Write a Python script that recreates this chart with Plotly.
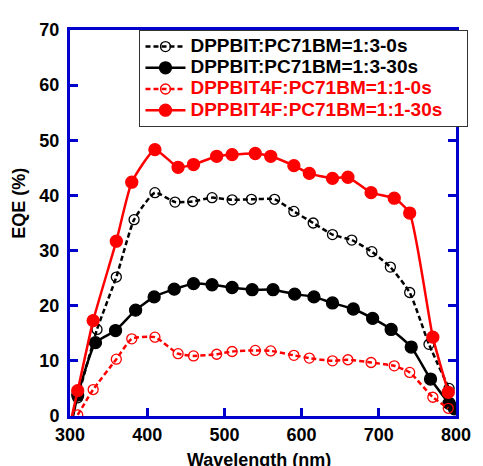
import plotly.graph_objects as go

# DPPBIT:PC71BM=1:3 (0 s and 30 s)
wl_bit_0s = [310, 335, 360, 383, 410, 436, 459, 484, 510, 535, 565, 590, 615, 640,
             665, 691, 715, 740, 765, 791]
eqe_bit_0s = [3.3, 15.7, 25.2, 35.6, 40.5, 38.8, 38.9, 39.6, 39.2, 39.3, 39.3, 37.1,
              35.0, 32.9, 31.9, 29.8, 27.0, 22.4, 13.0, 5.0]

wl_bit_30s = [300, 310, 333, 359, 385, 409, 435, 460, 484, 510, 536, 563, 591, 616,
              640, 667, 692, 716, 742, 767, 791, 798]
eqe_bit_30s = [-2.8, 3.8, 13.3, 15.5, 19.2, 21.6, 23.0, 24.0, 23.8, 23.3, 22.9, 22.9,
               22.1, 21.6, 20.5, 19.4, 17.7, 15.7, 12.5, 6.7, 2.3, 1.3]

# DPPBIT4F:PC71BM=1:1 (0 s and 30 s)
wl_4f = [310, 330, 360, 380, 410, 440, 460, 490, 510, 540, 560, 590, 610, 640,
         660, 690, 720, 740, 770, 790]
eqe_4f_0s = [0.2, 4.8, 10.3, 14.0, 14.3, 11.3, 10.9, 11.2, 11.7, 11.9, 11.8, 11.0,
             10.5, 10.0, 10.2, 9.7, 9.1, 7.9, 3.4, 1.4]

wl_4f_30s = [300] + wl_4f
eqe_4f_30s = [-1.5, 4.6, 17.3, 31.7, 42.4, 48.3, 45.1, 45.6, 47.1, 47.4, 47.6, 47.1,
              45.4, 44.0, 43.1, 43.3, 40.5, 39.5, 36.8, 14.3, 4.3]

BLUE = "#0000CC"
FONT = "Liberation Sans, Arial, sans-serif"

fig = go.Figure()

series = [
    (wl_bit_0s, eqe_bit_0s, "DPPBIT:PC71BM=1:3-0s", "black", "5px,3px", "circle-open"),
    (wl_bit_30s, eqe_bit_30s, "DPPBIT:PC71BM=1:3-30s", "black", "solid", "circle"),
    (wl_4f, eqe_4f_0s, "DPPBIT4F:PC71BM=1:1-0s", "red", "5px,3px", "circle-open"),
    (wl_4f_30s, eqe_4f_30s, "DPPBIT4F:PC71BM=1:1-30s", "red", "solid", "circle"),
]
for x, y, name, color, dash, symbol in series:
    fig.add_trace(go.Scatter(
        x=x, y=y, mode="lines+markers",
        # bigger glyphs than the legend font so the rows stay tight
        name=f"<span style='color:{color};font-size:19px'>{name}</span>",
        line=dict(color=color, width=2.5, dash=dash, shape="spline", smoothing=0.5),
        marker=dict(symbol=symbol, color=color, size=12 if symbol == "circle" else 10,
                    line=dict(color=color, width=1.3)),
    ))

axis_common = dict(
    showline=True, linecolor=BLUE, linewidth=3, mirror="ticks",
    ticks="inside", ticklen=8, tickwidth=3, tickcolor=BLUE,
    showgrid=False, zeroline=False,
    tickfont=dict(family=FONT, size=18, color="black", weight="bold"),
)

fig.update_xaxes(range=[300, 800], dtick=100, **axis_common)
fig.update_yaxes(range=[0, 70], dtick=10, ticklabelstandoff=4, **axis_common)

# page body adds 8px offset, so the figure is sized/margined to compensate
fig.update_layout(
    width=475, height=458,
    margin=dict(l=62, r=16, t=16, b=50),
    plot_bgcolor="white", paper_bgcolor="white",
    showlegend=True,
    legend=dict(
        orientation="h",
        x=0.18, y=1.0, xanchor="left", yanchor="top",
        bgcolor="white", bordercolor="#333333", borderwidth=1,
        font=dict(family=FONT, size=14, color="black", weight="bold"),
        tracegroupgap=0, itemwidth=40,
        entrywidth=272, entrywidthmode="pixels",
    ),
    annotations=[
        dict(text="<b>Wavelength (nm)</b>", xref="paper", yref="paper",
             x=0.49, y=-0.082, xanchor="center", yanchor="top", showarrow=False,
             font=dict(family=FONT, size=18, color="black")),
        dict(text="<b>EQE (%)</b>", xref="paper", yref="paper",
             x=-0.131, y=0.551, xanchor="center", yanchor="middle", showarrow=False,
             textangle=-90, font=dict(family=FONT, size=18, color="black")),
    ],
)

fig.write_html("out.html")
